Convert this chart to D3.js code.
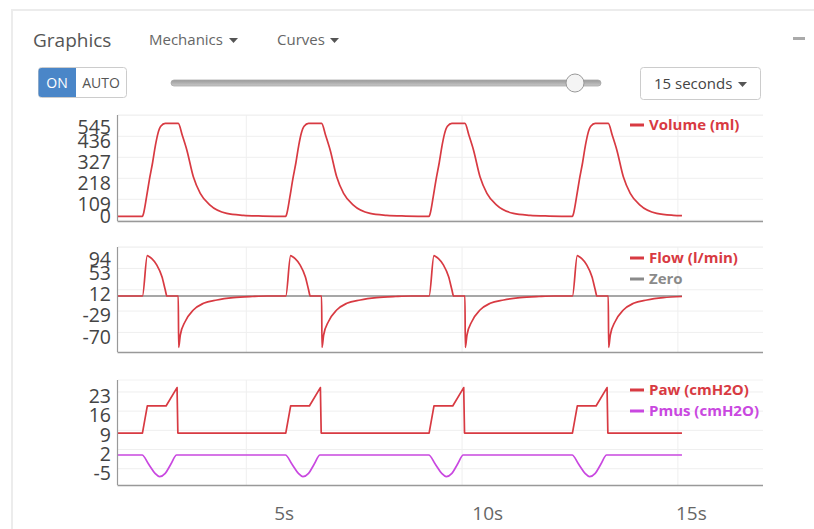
<!DOCTYPE html>
<html><head><meta charset="utf-8">
<script src="https://cdn.jsdelivr.net/npm/d3@7"></script>
<style>
html,body{margin:0;padding:0;background:#fff;}
svg{display:block;font-family:"Open Sans",sans-serif;}
</style></head>
<body>
<svg id="c" width="814" height="529"></svg>
<script>
// ---------- data (time in seconds) ----------
const volumeData = [[0.92,20],
 [1.52,20],[1.54,30],[1.62,120],[1.69,210],[1.77,300],[1.84,390],[1.90,450],[1.97,488],[2.08,503],[2.40,503],[2.50,440],[2.61,365],[2.77,226],[2.94,140],[3.18,79],[3.59,36],[4.00,26],[4.47,22],
 [5.04,20],[5.06,30],[5.14,120],[5.21,210],[5.29,300],[5.36,390],[5.42,450],[5.49,488],[5.60,503],[5.92,503],[6.02,440],[6.13,365],[6.29,226],[6.46,140],[6.70,79],[7.11,36],[7.52,26],[7.99,22],
 [8.56,20],[8.58,30],[8.66,120],[8.73,210],[8.81,300],[8.88,390],[8.94,450],[9.01,488],[9.12,503],[9.44,503],[9.54,440],[9.65,365],[9.81,226],[9.98,140],[10.22,79],[10.63,36],[11.04,26],[11.51,22],
 [12.08,20],[12.10,30],[12.18,120],[12.25,210],[12.33,300],[12.40,390],[12.46,450],[12.53,488],[12.64,503],[12.96,503],[13.06,440],[13.17,365],[13.33,226],[13.50,140],[13.74,79],[14.15,36],[14.56,26],[14.77,24]];

const flowData = [[0.92,0],
 [1.52,0],[1.64,77.5],[1.68,76],[1.75,72],[1.87,60],[2.00,37],[2.08,12],[2.12,0],[2.40,0],[2.41,-99],[2.45,-75],[2.57,-49],[2.77,-27],[3.02,-14],[3.35,-7.7],[3.75,-3.3],[4.22,-1],[4.59,0],
 [5.04,0],[5.16,77.5],[5.20,76],[5.27,72],[5.39,60],[5.52,37],[5.60,12],[5.64,0],[5.92,0],[5.93,-99],[5.97,-75],[6.09,-49],[6.29,-27],[6.54,-14],[6.87,-7.7],[7.27,-3.3],[7.74,-1],[8.11,0],
 [8.56,0],[8.68,77.5],[8.72,76],[8.79,72],[8.91,60],[9.04,37],[9.12,12],[9.16,0],[9.44,0],[9.45,-99],[9.49,-75],[9.61,-49],[9.81,-27],[10.06,-14],[10.39,-7.7],[10.79,-3.3],[11.26,-1],[11.63,0],
 [12.08,0],[12.20,77.5],[12.24,76],[12.31,72],[12.43,60],[12.56,37],[12.64,12],[12.68,0],[12.96,0],[12.97,-99],[13.01,-75],[13.13,-49],[13.33,-27],[13.58,-14],[13.91,-7.7],[14.31,-3.3],[14.77,-1]];

const zeroData = [[0.92,0],[14.77,0]];

const pawData = [[0.92,8],
 [1.52,8],[1.64,17.9],[2.10,17.9],[2.37,24.6],[2.39,8],
 [5.04,8],[5.16,17.9],[5.62,17.9],[5.89,24.6],[5.91,8],
 [8.56,8],[8.68,17.9],[9.14,17.9],[9.41,24.6],[9.43,8],
 [12.08,8],[12.20,17.9],[12.66,17.9],[12.93,24.6],[12.95,8],
 [14.77,8]];

const pmusData = [[0.92,0],
 [1.51,0],[1.67,-3.3],[1.83,-6.7],[1.94,-7.9],[2.08,-6.7],[2.22,-3.3],[2.36,0],
 [5.03,0],[5.19,-3.3],[5.35,-6.7],[5.46,-7.9],[5.60,-6.7],[5.74,-3.3],[5.88,0],
 [8.55,0],[8.71,-3.3],[8.87,-6.7],[8.98,-7.9],[9.12,-6.7],[9.26,-3.3],[9.40,0],
 [12.07,0],[12.23,-3.3],[12.39,-6.7],[12.50,-7.9],[12.64,-6.7],[12.78,-3.3],[12.92,0],
 [14.77,0]];

const volumeTicks = [0,109,218,327,436,545];
const flowTicks = [-70,-29,12,53,94];
const pressureTicks = [-5,2,9,16,23];
const timeTicks = [5,10,15];
const timeGrid = [4.07,9.37,14.67];

// ---------- layout ----------
const svg = d3.select("#c");
const RED = "#d83a42", MAG = "#c948e0", GRAY = "#8a8a8a";

// card
svg.append("rect").attr("x",12).attr("y",10).attr("width",830).attr("height",560)
  .attr("fill","#fff").attr("stroke","#ececec").attr("stroke-width",2);

svg.append("text").attr("x",33).attr("y",47).attr("font-size",19).attr("fill","#555").text("Graphics");
function caret(x,y){ svg.append("path").attr("d",`M${x},${y} l9,0 l-4.5,5 z`).attr("fill","#555"); }
svg.append("text").attr("x",149).attr("y",45).attr("font-size",15).attr("fill","#666").text("Mechanics");
caret(229,38);
svg.append("text").attr("x",277).attr("y",45).attr("font-size",15).attr("fill","#666").text("Curves");
caret(330,38);
svg.append("rect").attr("x",793).attr("y",37).attr("width",12).attr("height",3).attr("fill","#aaa");

// ON / AUTO
svg.append("rect").attr("x",38.5).attr("y",67.5).attr("width",88).attr("height",30).attr("rx",3)
  .attr("fill","#fff").attr("stroke","#ccc");
svg.append("path").attr("d","M41.5,68 h34.5 v29 h-34.5 a3,3 0 0 1 -3,-3 v-23 a3,3 0 0 1 3,-3 z").attr("fill","#4a86c8");
svg.append("text").attr("x",57).attr("y",87.5).attr("text-anchor","middle").attr("font-size",14).attr("fill","#fff").text("ON");
svg.append("text").attr("x",101).attr("y",87.5).attr("text-anchor","middle").attr("font-size",14).attr("fill","#555").text("AUTO");

// slider
const grad = svg.append("defs").append("linearGradient").attr("id","tr").attr("x1",0).attr("x2",0).attr("y1",0).attr("y2",1);
grad.append("stop").attr("offset",0).attr("stop-color","#999");
grad.append("stop").attr("offset",1).attr("stop-color","#c8c8c8");
svg.append("rect").attr("x",171).attr("y",80).attr("width",430).attr("height",6).attr("rx",3)
  .attr("fill","url(#tr)").attr("stroke","#aaa").attr("stroke-width",0.8);
svg.append("circle").attr("cx",575).attr("cy",83).attr("r",9).attr("fill","#f4f4f4").attr("stroke","#999");

// 15 seconds dropdown
svg.append("rect").attr("x",640.5).attr("y",67.5).attr("width",120).attr("height",32).attr("rx",3)
  .attr("fill","#fff").attr("stroke","#ccc");
svg.append("text").attr("x",654).attr("y",89).attr("font-size",15).attr("fill","#444").text("15 seconds");
caret(738,82);

// ---------- charts ----------
const x = d3.scaleLinear().domain([0.92,16.76]).range([118,763]);

const panels = [
  {top:115, bottom:221, domain:[-3.6,546.5], ticks:volumeTicks,
   series:[{data:volumeData,color:RED,curve:d3.curveMonotoneX}],
   legend:[{label:"Volume (ml)",color:RED,y:125}]},
  {top:247, bottom:352, domain:[-107.7,94.23], ticks:flowTicks,
   series:[{data:zeroData,color:GRAY,curve:d3.curveLinear},{data:flowData,color:RED,curve:d3.curveMonotoneX}],
   legend:[{label:"Flow (l/min)",color:RED,y:258},{label:"Zero",color:GRAY,y:279}]},
  {top:380, bottom:485, domain:[-10.95,27.37], ticks:pressureTicks,
   series:[{data:pawData,color:RED,curve:d3.curveLinear},{data:pmusData,color:MAG,curve:d3.curveMonotoneX}],
   legend:[{label:"Paw (cmH2O)",color:RED,y:390},{label:"Pmus (cmH2O)",color:MAG,y:411}]}
];

panels.forEach(p=>{
  const y = d3.scaleLinear().domain(p.domain).range([p.bottom,p.top]);
  const g = svg.append("g");
  g.selectAll(".hg").data(p.ticks).join("line")
    .attr("x1",x.range()[0]).attr("x2",x.range()[1])
    .attr("y1",d=>y(d)).attr("y2",d=>y(d))
    .attr("stroke","#efefef").attr("stroke-width",1);
  g.append("line").attr("x1",x.range()[0]).attr("x2",x.range()[1]).attr("y1",p.top).attr("y2",p.top)
    .attr("stroke","#f2f2f2");
  g.selectAll(".vg").data(timeGrid).join("line")
    .attr("x1",d=>x(d)).attr("x2",d=>x(d)).attr("y1",p.top).attr("y2",p.bottom)
    .attr("stroke","#efefef").attr("stroke-width",1);
  g.selectAll(".tl").data(p.ticks).join("text")
    .attr("x",111).attr("y",d=>Math.max(p.top+12, Math.min(p.bottom-5, y(d)+4.5)))
    .attr("dy","0.35em").attr("text-anchor","end")
    .attr("font-size",19.5).attr("fill","#444").text(d=>d);
  p.series.forEach(s=>{
    g.append("path").datum(s.data)
      .attr("d",d3.line().x(d=>x(d[0])).y(d=>y(d[1])).curve(s.curve))
      .attr("fill","none").attr("stroke",s.color).attr("stroke-width",1.7).attr("stroke-linejoin","round");
  });
  g.append("line").attr("x1",117.5).attr("x2",117.5).attr("y1",p.top).attr("y2",p.bottom)
    .attr("stroke","#999").attr("stroke-width",1.2);
  g.append("line").attr("x1",117.5).attr("x2",x.range()[1]).attr("y1",p.bottom+0.5).attr("y2",p.bottom+0.5)
    .attr("stroke","#999").attr("stroke-width",1.5);
  p.legend.forEach(l=>{
    g.append("rect").attr("x",630).attr("y",l.y-1.5).attr("width",14).attr("height",3).attr("fill",l.color);
    g.append("text").attr("x",649).attr("y",l.y).attr("dy","0.35em").attr("font-size",15)
      .attr("font-weight","bold").attr("fill",l.color).text(l.label);
  });
});

svg.selectAll(".xt").data(timeTicks).join("text")
  .attr("x",d=>x(d)).attr("y",513).attr("dy","0.35em").attr("text-anchor","middle")
  .attr("font-size",19).attr("fill","#666").text(d=>d+"s");
</script>
</body></html>
